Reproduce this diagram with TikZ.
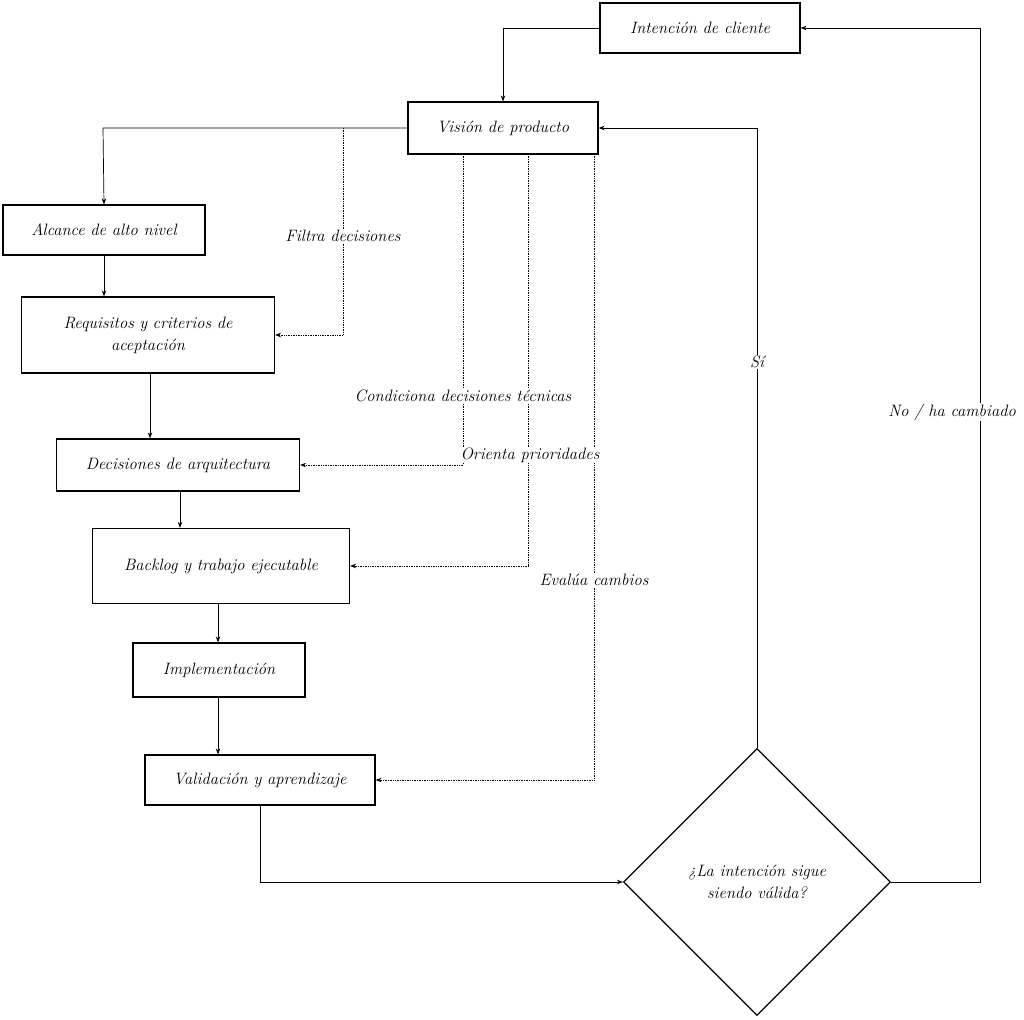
\documentclass[tikz,border=0pt]{standalone}
\usetikzlibrary{shapes.geometric,arrows.meta}
\begin{document}
\begin{tikzpicture}[x=1pt,y=-1pt,
  font=\fontsize{16.5}{22}\selectfont\itshape,
  box/.style={draw,line width=1.2pt,inner sep=2pt,align=center},
  arr/.style={-{Stealth[length=6pt]},line width=0.7pt},
  dot/.style={arr,densely dotted},
  lab/.style={fill=white,inner sep=1pt}]
\useasboundingbox (0,0) rectangle (1024,1019);
\node[box,minimum width=200pt,minimum height=50pt] (ic) at (700,28) {Intención de cliente};
\node[box,minimum width=190pt,minimum height=52pt] (vp) at (503,128) {Visión de producto};
\node[box,minimum width=202pt,minimum height=50pt] (al) at (104,230) {Alcance de alto nivel};
\node[box,minimum width=253pt,minimum height=76pt,text width=220pt] (rq) at (148,335) {Requisitos y criterios de\\aceptación};
\node[box,minimum width=243pt,minimum height=52pt] (da) at (178,465) {Decisiones de arquitectura};
\node[box,minimum width=257pt,minimum height=75pt] (bk) at (221,566) {Backlog y trabajo ejecutable};
\node[box,minimum width=172pt,minimum height=54pt] (im) at (219,670) {Implementación};
\node[box,minimum width=230pt,minimum height=50pt] (va) at (260,780) {Validación y aprendizaje};
\node[draw,line width=1.2pt,diamond,minimum width=267pt,minimum height=267pt,inner sep=0pt,align=center] (dm) at (757,882) {¿La intención sigue\\siendo válida?};
\coordinate (c1) at (503,28);
\coordinate (c2) at (103,128);
\coordinate (c3) at (260,882);
\coordinate (c4) at (757,128);
\coordinate (c5) at (980,882);
\coordinate (c6) at (980,28);
\draw[arr] (ic.west) -- (c1) -- (vp.north);
\draw[arr] (vp.west) -- (c2) -- (al.north);
\draw[arr] (al.south) -- (rq.north -| al.south);
\draw[arr] (rq.south -| 150,0) -- (da.north -| 150,0);
\draw[arr] (da.south -| 180,0) -- (bk.north -| 180,0);
\draw[arr] (bk.south -| 218,0) -- (im.north -| 218,0);
\draw[arr] (im.south -| 218,0) -- (va.north -| 218,0);
\draw[arr] (va.south) -- (c3) -- (dm.west);
\draw[arr] (dm.north) -- (c4) -- (vp.east);
\draw[arr] (dm.east) -- (c5) -- (c6) -- (ic.east);
\node[lab] (si) at (757,362) {Sí};
\node[lab] (no) at (952,412) {No / ha cambiado};
\coordinate (d1) at (343,128);
\coordinate (d1b) at (343,335);
\coordinate (d2) at (463,154);
\coordinate (d2b) at (463,465);
\coordinate (d3) at (528,154);
\coordinate (d3b) at (528,566);
\coordinate (d4) at (594,154);
\coordinate (d4b) at (594,780);
\draw[dot] (d1) -- (d1b) -- (rq.east |- d1b);
\draw[dot] (d2) -- (d2b) -- (da.east |- d2b);
\draw[dot] (d3) -- (d3b) -- (bk.east |- d3b);
\draw[dot] (d4) -- (d4b) -- (va.east |- d4b);
\node[lab] (l1) at (343,236) {Filtra decisiones};
\node[lab] (l2) at (463,396) {Condiciona decisiones técnicas};
\node[lab] (l3) at (530,455) {Orienta prioridades};
\node[lab] (l4) at (594,580) {Evalúa cambios};
\end{tikzpicture}
\end{document}
